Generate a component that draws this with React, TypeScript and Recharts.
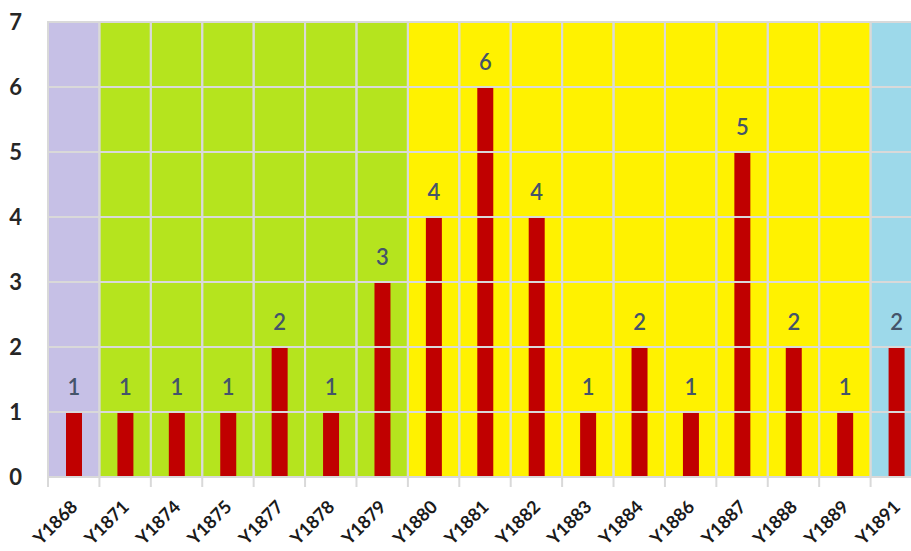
import React from 'react';
import { BarChart, Bar, XAxis, YAxis, ReferenceArea, ReferenceLine, LabelList } from 'recharts';

const years = ['Y1868', 'Y1871', 'Y1874', 'Y1875', 'Y1877', 'Y1878', 'Y1879', 'Y1880', 'Y1881', 'Y1882', 'Y1883', 'Y1884', 'Y1886', 'Y1887', 'Y1888', 'Y1889', 'Y1891'];
const counts = [1, 1, 1, 1, 2, 1, 3, 4, 6, 4, 1, 2, 1, 5, 2, 1, 2];
const yTicks = [0, 1, 2, 3, 4, 5, 6, 7];

// coloured period bands behind the bars
const bandStart = ['Y1868', 'Y1871', 'Y1880', 'Y1891'];
const bandEnd = ['Y1868', 'Y1879', 'Y1889', 'Y1891'];
const bandColor = ['#c6c0e6', '#b5e41e', '#fff200', '#9dd9ea'];

const data = years.map((year, i) => ({ year, count: counts[i] }));

const GRID = '#d9d9d9';
const FONT = 'Lato, "Open Sans", sans-serif';

const XTick = (props: any) => {
  const { x, y, payload } = props;
  const edge = x - (payload.offset || 0);
  const tx = x + 5;
  const ty = y + 31;
  return (
    <g>
      <line x1={edge} x2={edge} y1={y} y2={y + 10} stroke={GRID} strokeWidth={2} />
      <text
        x={tx}
        y={ty}
        transform={`rotate(-45, ${tx}, ${ty})`}
        textAnchor="end"
        fontSize={18}
        fontWeight={700}
        fontFamily={FONT}
        fill="#1a1a1a"
      >
        {payload.value}
      </text>
    </g>
  );
};

export default function App() {
  return (
    <div style={{ position: 'absolute', left: 0, top: 0, width: 911, height: 551, overflow: 'hidden', background: '#fff' }}>
      <BarChart width={930} height={551} data={data} margin={{ top: 22, right: 8, bottom: 0, left: 0 }} barSize={16}>
        {bandStart.map((b, i) => (
          <ReferenceArea key={'band' + i} x1={b} x2={bandEnd[i]} y1={0} y2={7} fill={bandColor[i]} fillOpacity={1} stroke="none" />
        ))}
        {years.map((yr) => (
          <ReferenceArea key={'cell' + yr} x1={yr} x2={yr} y1={0} y2={7} fill="none" fillOpacity={0} stroke={GRID} strokeWidth={2} />
        ))}
        {yTicks.slice(1, -1).map((t) => (
          <ReferenceLine key={'h' + t} y={t} stroke={GRID} strokeWidth={2} />
        ))}
        <XAxis
          dataKey="year"
          height={74}
          interval={0}
          tickLine={false}
          tickSize={0}
          tickMargin={0}
          axisLine={{ stroke: GRID, strokeWidth: 2 }}
          tick={<XTick />}
        />
        <YAxis
          width={48}
          domain={[0, 7]}
          ticks={yTicks}
          interval={0}
          axisLine={false}
          tickLine={false}
          tickMargin={20}
          tick={{ fontSize: 22, fontWeight: 700, fill: '#262626', fontFamily: FONT }}
        />
        <Bar dataKey="count" fill="#c00000" isAnimationActive={false}>
          <LabelList dataKey="count" position="top" offset={17} fill="#44546a" fontSize={22} fontFamily={FONT} fontWeight={600} />
        </Bar>
      </BarChart>
    </div>
  );
}
